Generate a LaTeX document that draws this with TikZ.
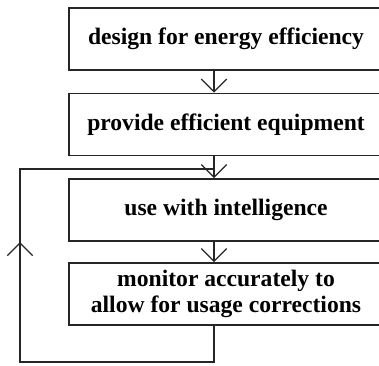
\documentclass[tikz,border=0pt]{standalone}
\usepackage{fontspec}
\setmainfont{Liberation Serif}
\usetikzlibrary{arrows.meta}

\begin{document}
\begin{tikzpicture}[x=0.75pt, y=-0.75pt,
    line width=1.3pt, draw=black!85,
    stepbox/.style={draw, rectangle, minimum width=235.5pt, minimum height=46.5pt,
        align=center, inner sep=0pt,
        font=\fontsize{17.7}{19.5}\selectfont\bfseries},
    flow/.style={-{Straight Barb[length=9.5pt, width=19pt, line width=1pt]}}]

    % Page frame, the boxes run off the right edge
    \clip (0,0) rectangle (379,365);

    % 1. The four steps
    \node[stepbox] (design)  at (226,39)    {design for energy efficiency};
    \node[stepbox] (provide) at (226,124.5) {provide efficient equipment};
    \node[stepbox] (use)     at (226,210)   {use with intelligence};
    \node[stepbox] (monitor) at (226,294)   {monitor accurately to\\allow for usage corrections};

    % 2. Spine the arrows hang on
    \coordinate (spine) at (214,0);

    % 3. Downward arrows
    \draw[flow] (design.south -| spine) -- (provide.north -| spine);
    \draw[flow] (provide.south -| spine) -- (use.north -| spine);
    \draw[flow] (use.south -| spine) -- (monitor.north -| spine);

    % 4. Feedback loop back to the top of "use"
    \coordinate (loopbr) at (214,362);
    \coordinate (loopbl) at (20,362);
    \coordinate (looptip) at (20,242);
    \coordinate (looptl) at (20,169);
    \coordinate (loopjoin) at (214,169);
    \draw (monitor.south -| spine) -- (loopbr) -- (loopbl) -- (looptip);
    \draw[flow] (loopbl) -- (looptip);
    \draw (looptip) -- (looptl) -- (loopjoin);

\end{tikzpicture}
\end{document}
